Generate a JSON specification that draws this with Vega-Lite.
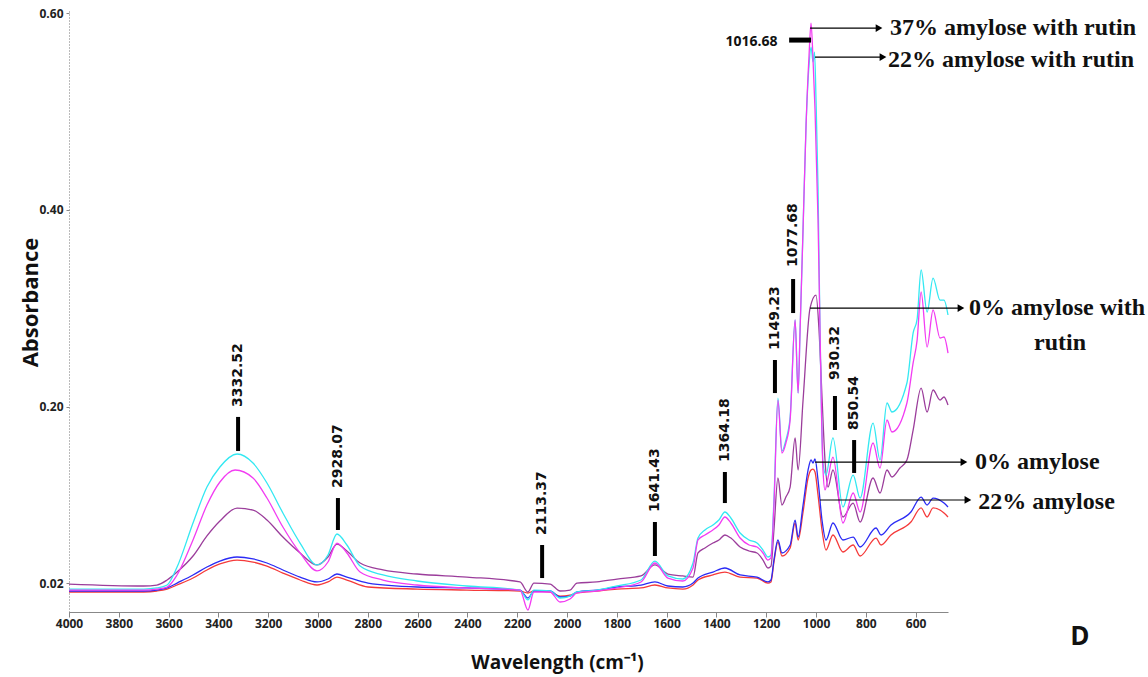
{
  "$schema": "https://vega.github.io/schema/vega-lite/v6.json",
  "width": 879,
  "height": 602,
  "autosize": {"type": "none"},
  "padding": {"left": 69, "top": 10, "right": 200, "bottom": 65},
  "background": "white",
  "config": {"view": {"stroke": null}, "font": "Open Sans"},
  "datasets": {
    "spectra": [
      {"s":"r","x":4000,"y":0.0113},{"s":"r","x":3700,"y":0.0113},{"s":"r","x":3647,"y":0.0123},{"s":"r","x":3606,"y":0.0143},{"s":"r","x":3566,"y":0.0184},{"s":"r","x":3502,"y":0.0255},{"s":"r","x":3446,"y":0.0337},{"s":"r","x":3394,"y":0.0398},{"s":"r","x":3325,"y":0.0438},{"s":"r","x":3261,"y":0.0418},{"s":"r","x":3205,"y":0.0377},{"s":"r","x":3141,"y":0.0306},{"s":"r","x":3072,"y":0.0235},{"s":"r","x":3004,"y":0.0184},{"s":"r","x":2960,"y":0.0215},{"s":"r","x":2924,"y":0.0265},{"s":"r","x":2884,"y":0.0235},{"s":"r","x":2799,"y":0.0164},{"s":"r","x":2602,"y":0.0143},{"s":"r","x":2402,"y":0.0133},{"s":"r","x":2189,"y":0.0123},{"s":"r","x":2157,"y":0.0103},{"s":"r","x":2133,"y":0.0123},{"s":"r","x":2068,"y":0.0113},{"s":"r","x":2028,"y":0.0072},{"s":"r","x":1988,"y":0.0082},{"s":"r","x":1960,"y":0.0103},{"s":"r","x":1880,"y":0.0123},{"s":"r","x":1799,"y":0.0143},{"s":"r","x":1703,"y":0.0154},{"s":"r","x":1647,"y":0.0184},{"s":"r","x":1595,"y":0.0154},{"s":"r","x":1535,"y":0.0143},{"s":"r","x":1494,"y":0.0184},{"s":"r","x":1474,"y":0.0235},{"s":"r","x":1414,"y":0.0286},{"s":"r","x":1366,"y":0.0316},{"s":"r","x":1305,"y":0.0265},{"s":"r","x":1237,"y":0.0255},{"s":"r","x":1193,"y":0.0204},{"s":"r","x":1181,"y":0.0215},{"s":"r","x":1169,"y":0.0418},{"s":"r","x":1153,"y":0.0622},{"s":"r","x":1137,"y":0.0479},{"s":"r","x":1104,"y":0.0561},{"s":"r","x":1084,"y":0.0815},{"s":"r","x":1072,"y":0.0642},{"s":"r","x":1052,"y":0.0927},{"s":"r","x":1032,"y":0.1273},{"s":"r","x":1020,"y":0.1354},{"s":"r","x":1012,"y":0.1364},{"s":"r","x":1004,"y":0.1334},{"s":"r","x":992,"y":0.11},{"s":"r","x":976,"y":0.0744},{"s":"r","x":960,"y":0.054},{"s":"r","x":932,"y":0.0693},{"s":"r","x":892,"y":0.052},{"s":"r","x":851,"y":0.0591},{"s":"r","x":823,"y":0.0479},{"s":"r","x":759,"y":0.0662},{"s":"r","x":739,"y":0.0591},{"s":"r","x":699,"y":0.0693},{"s":"r","x":619,"y":0.0825},{"s":"r","x":578,"y":0.0968},{"s":"r","x":554,"y":0.0876},{"s":"r","x":530,"y":0.0968},{"s":"r","x":486,"y":0.0917},{"s":"r","x":470,"y":0.0876},
      {"s":"b","x":4000,"y":0.0123},{"s":"b","x":3700,"y":0.0123},{"s":"b","x":3647,"y":0.0133},{"s":"b","x":3606,"y":0.0154},{"s":"b","x":3566,"y":0.0204},{"s":"b","x":3502,"y":0.0286},{"s":"b","x":3446,"y":0.0367},{"s":"b","x":3394,"y":0.0428},{"s":"b","x":3325,"y":0.0469},{"s":"b","x":3261,"y":0.0449},{"s":"b","x":3205,"y":0.0408},{"s":"b","x":3141,"y":0.0337},{"s":"b","x":3072,"y":0.0265},{"s":"b","x":3004,"y":0.0215},{"s":"b","x":2960,"y":0.0245},{"s":"b","x":2924,"y":0.0296},{"s":"b","x":2884,"y":0.0265},{"s":"b","x":2799,"y":0.0204},{"s":"b","x":2602,"y":0.0164},{"s":"b","x":2402,"y":0.0154},{"s":"b","x":2189,"y":0.0133},{"s":"b","x":2157,"y":0.0052},{"s":"b","x":2133,"y":0.0123},{"s":"b","x":2068,"y":0.0123},{"s":"b","x":2028,"y":0.0062},{"s":"b","x":1988,"y":0.0072},{"s":"b","x":1960,"y":0.0113},{"s":"b","x":1880,"y":0.0133},{"s":"b","x":1799,"y":0.0164},{"s":"b","x":1703,"y":0.0184},{"s":"b","x":1647,"y":0.0215},{"s":"b","x":1595,"y":0.0174},{"s":"b","x":1535,"y":0.0164},{"s":"b","x":1494,"y":0.0204},{"s":"b","x":1474,"y":0.0255},{"s":"b","x":1414,"y":0.0316},{"s":"b","x":1366,"y":0.0357},{"s":"b","x":1305,"y":0.0286},{"s":"b","x":1237,"y":0.0265},{"s":"b","x":1193,"y":0.0215},{"s":"b","x":1181,"y":0.0235},{"s":"b","x":1169,"y":0.0438},{"s":"b","x":1153,"y":0.0642},{"s":"b","x":1137,"y":0.051},{"s":"b","x":1104,"y":0.0591},{"s":"b","x":1084,"y":0.0845},{"s":"b","x":1072,"y":0.0672},{"s":"b","x":1052,"y":0.0998},{"s":"b","x":1032,"y":0.1354},{"s":"b","x":1020,"y":0.1456},{"s":"b","x":1012,"y":0.1425},{"s":"b","x":1004,"y":0.1466},{"s":"b","x":992,"y":0.1252},{"s":"b","x":976,"y":0.0845},{"s":"b","x":960,"y":0.0642},{"s":"b","x":932,"y":0.0815},{"s":"b","x":892,"y":0.0642},{"s":"b","x":851,"y":0.0672},{"s":"b","x":823,"y":0.0571},{"s":"b","x":759,"y":0.0764},{"s":"b","x":739,"y":0.0693},{"s":"b","x":699,"y":0.0795},{"s":"b","x":619,"y":0.0927},{"s":"b","x":578,"y":0.1079},{"s":"b","x":554,"y":0.0998},{"s":"b","x":530,"y":0.1069},{"s":"b","x":486,"y":0.1018},{"s":"b","x":470,"y":0.0978},
      {"s":"p","x":4000,"y":0.0194},{"s":"p","x":3700,"y":0.0174},{"s":"p","x":3647,"y":0.0184},{"s":"p","x":3606,"y":0.0235},{"s":"p","x":3566,"y":0.0316},{"s":"p","x":3502,"y":0.0479},{"s":"p","x":3446,"y":0.0683},{"s":"p","x":3394,"y":0.0835},{"s":"p","x":3325,"y":0.0967},{"s":"p","x":3261,"y":0.0947},{"s":"p","x":3205,"y":0.0845},{"s":"p","x":3141,"y":0.0672},{"s":"p","x":3072,"y":0.051},{"s":"p","x":3004,"y":0.0388},{"s":"p","x":2960,"y":0.0469},{"s":"p","x":2924,"y":0.0601},{"s":"p","x":2884,"y":0.053},{"s":"p","x":2831,"y":0.0408},{"s":"p","x":2739,"y":0.0337},{"s":"p","x":2602,"y":0.0296},{"s":"p","x":2402,"y":0.0265},{"s":"p","x":2189,"y":0.0215},{"s":"p","x":2157,"y":0.0113},{"s":"p","x":2133,"y":0.0204},{"s":"p","x":2068,"y":0.0194},{"s":"p","x":2028,"y":0.0123},{"s":"p","x":1988,"y":0.0133},{"s":"p","x":1960,"y":0.0204},{"s":"p","x":1880,"y":0.0215},{"s":"p","x":1799,"y":0.0245},{"s":"p","x":1703,"y":0.0276},{"s":"p","x":1647,"y":0.0388},{"s":"p","x":1595,"y":0.0296},{"s":"p","x":1535,"y":0.0276},{"s":"p","x":1494,"y":0.0265},{"s":"p","x":1474,"y":0.051},{"s":"p","x":1446,"y":0.0561},{"s":"p","x":1414,"y":0.0611},{"s":"p","x":1390,"y":0.0642},{"s":"p","x":1366,"y":0.0693},{"s":"p","x":1342,"y":0.0662},{"s":"p","x":1305,"y":0.0571},{"s":"p","x":1269,"y":0.053},{"s":"p","x":1237,"y":0.051},{"s":"p","x":1213,"y":0.0438},{"s":"p","x":1193,"y":0.0357},{"s":"p","x":1181,"y":0.0377},{"s":"p","x":1169,"y":0.0744},{"s":"p","x":1153,"y":0.1273},{"s":"p","x":1137,"y":0.0998},{"s":"p","x":1121,"y":0.1079},{"s":"p","x":1104,"y":0.1181},{"s":"p","x":1084,"y":0.168},{"s":"p","x":1072,"y":0.1354},{"s":"p","x":1052,"y":0.2066},{"s":"p","x":1024,"y":0.3002},{"s":"p","x":1000,"y":0.3134},{"s":"p","x":988,"y":0.2778},{"s":"p","x":976,"y":0.2097},{"s":"p","x":964,"y":0.1456},{"s":"p","x":952,"y":0.1181},{"s":"p","x":932,"y":0.1354},{"s":"p","x":892,"y":0.0876},{"s":"p","x":851,"y":0.1018},{"s":"p","x":823,"y":0.0825},{"s":"p","x":771,"y":0.1273},{"s":"p","x":743,"y":0.112},{"s":"p","x":715,"y":0.1354},{"s":"p","x":695,"y":0.1283},{"s":"p","x":663,"y":0.1374},{"s":"p","x":635,"y":0.1456},{"s":"p","x":610,"y":0.1761},{"s":"p","x":578,"y":0.2188},{"s":"p","x":554,"y":0.1944},{"s":"p","x":530,"y":0.2168},{"s":"p","x":502,"y":0.2066},{"s":"p","x":486,"y":0.2097},{"s":"p","x":470,"y":0.2015},
      {"s":"c","x":4000,"y":0.0143},{"s":"c","x":3700,"y":0.0143},{"s":"c","x":3647,"y":0.0154},{"s":"c","x":3606,"y":0.0184},{"s":"c","x":3566,"y":0.0367},{"s":"c","x":3502,"y":0.0815},{"s":"c","x":3446,"y":0.1181},{"s":"c","x":3394,"y":0.1385},{"s":"c","x":3325,"y":0.1517},{"s":"c","x":3261,"y":0.1425},{"s":"c","x":3205,"y":0.1222},{"s":"c","x":3141,"y":0.0917},{"s":"c","x":3072,"y":0.0611},{"s":"c","x":3004,"y":0.0388},{"s":"c","x":2960,"y":0.0489},{"s":"c","x":2924,"y":0.0703},{"s":"c","x":2884,"y":0.0591},{"s":"c","x":2831,"y":0.0377},{"s":"c","x":2739,"y":0.0286},{"s":"c","x":2602,"y":0.0225},{"s":"c","x":2402,"y":0.0174},{"s":"c","x":2189,"y":0.0133},{"s":"c","x":2157,"y":0.0032},{"s":"c","x":2133,"y":0.0133},{"s":"c","x":2068,"y":0.0123},{"s":"c","x":2028,"y":0.0052},{"s":"c","x":1988,"y":0.0072},{"s":"c","x":1960,"y":0.0113},{"s":"c","x":1880,"y":0.0133},{"s":"c","x":1799,"y":0.0174},{"s":"c","x":1703,"y":0.0235},{"s":"c","x":1647,"y":0.0428},{"s":"c","x":1595,"y":0.0276},{"s":"c","x":1535,"y":0.0245},{"s":"c","x":1494,"y":0.0408},{"s":"c","x":1474,"y":0.0662},{"s":"c","x":1446,"y":0.0744},{"s":"c","x":1414,"y":0.0795},{"s":"c","x":1390,"y":0.0845},{"s":"c","x":1366,"y":0.0927},{"s":"c","x":1342,"y":0.0866},{"s":"c","x":1305,"y":0.0713},{"s":"c","x":1269,"y":0.0642},{"s":"c","x":1237,"y":0.0611},{"s":"c","x":1213,"y":0.054},{"s":"c","x":1193,"y":0.0469},{"s":"c","x":1181,"y":0.0489},{"s":"c","x":1169,"y":0.1049},{"s":"c","x":1153,"y":0.2086},{"s":"c","x":1137,"y":0.1547},{"s":"c","x":1121,"y":0.1659},{"s":"c","x":1104,"y":0.1893},{"s":"c","x":1084,"y":0.288},{"s":"c","x":1072,"y":0.2137},{"s":"c","x":1064,"y":0.2778},{"s":"c","x":1052,"y":0.3816},{"s":"c","x":1040,"y":0.4864},{"s":"c","x":1028,"y":0.5474},{"s":"c","x":1020,"y":0.5657},{"s":"c","x":1012,"y":0.5505},{"s":"c","x":1006,"y":0.5606},{"s":"c","x":1000,"y":0.5118},{"s":"c","x":992,"y":0.4233},{"s":"c","x":984,"y":0.2778},{"s":"c","x":972,"y":0.1425},{"s":"c","x":960,"y":0.1303},{"s":"c","x":932,"y":0.168},{"s":"c","x":892,"y":0.0978},{"s":"c","x":851,"y":0.1303},{"s":"c","x":823,"y":0.1069},{"s":"c","x":771,"y":0.1832},{"s":"c","x":743,"y":0.1456},{"s":"c","x":715,"y":0.2036},{"s":"c","x":695,"y":0.1944},{"s":"c","x":635,"y":0.2239},{"s":"c","x":610,"y":0.2748},{"s":"c","x":594,"y":0.289},{"s":"c","x":578,"y":0.3389},{"s":"c","x":554,"y":0.2961},{"s":"c","x":530,"y":0.3307},{"s":"c","x":502,"y":0.3083},{"s":"c","x":486,"y":0.3083},{"s":"c","x":470,"y":0.2931},
      {"s":"m","x":4000,"y":0.0133},{"s":"m","x":3700,"y":0.0133},{"s":"m","x":3647,"y":0.0143},{"s":"m","x":3606,"y":0.0163},{"s":"m","x":3566,"y":0.0286},{"s":"m","x":3502,"y":0.0642},{"s":"m","x":3446,"y":0.0998},{"s":"m","x":3394,"y":0.1232},{"s":"m","x":3333,"y":0.1354},{"s":"m","x":3261,"y":0.1273},{"s":"m","x":3205,"y":0.1069},{"s":"m","x":3141,"y":0.0774},{"s":"m","x":3072,"y":0.051},{"s":"m","x":3004,"y":0.0327},{"s":"m","x":2960,"y":0.0418},{"s":"m","x":2924,"y":0.0611},{"s":"m","x":2884,"y":0.051},{"s":"m","x":2831,"y":0.0316},{"s":"m","x":2739,"y":0.0235},{"s":"m","x":2602,"y":0.0184},{"s":"m","x":2402,"y":0.0154},{"s":"m","x":2189,"y":0.0133},{"s":"m","x":2157,"y":-0.007},{"s":"m","x":2133,"y":0.0113},{"s":"m","x":2068,"y":0.0113},{"s":"m","x":2028,"y":0.0011},{"s":"m","x":1988,"y":0.0042},{"s":"m","x":1960,"y":0.0103},{"s":"m","x":1880,"y":0.0123},{"s":"m","x":1799,"y":0.0154},{"s":"m","x":1703,"y":0.0215},{"s":"m","x":1647,"y":0.0408},{"s":"m","x":1595,"y":0.0255},{"s":"m","x":1535,"y":0.0225},{"s":"m","x":1494,"y":0.0357},{"s":"m","x":1474,"y":0.0642},{"s":"m","x":1446,"y":0.0693},{"s":"m","x":1414,"y":0.0744},{"s":"m","x":1390,"y":0.0795},{"s":"m","x":1366,"y":0.0876},{"s":"m","x":1342,"y":0.0815},{"s":"m","x":1305,"y":0.0662},{"s":"m","x":1269,"y":0.0591},{"s":"m","x":1237,"y":0.0571},{"s":"m","x":1213,"y":0.051},{"s":"m","x":1193,"y":0.0438},{"s":"m","x":1181,"y":0.0459},{"s":"m","x":1169,"y":0.0998},{"s":"m","x":1153,"y":0.2066},{"s":"m","x":1137,"y":0.1527},{"s":"m","x":1121,"y":0.1629},{"s":"m","x":1104,"y":0.1863},{"s":"m","x":1084,"y":0.288},{"s":"m","x":1072,"y":0.2137},{"s":"m","x":1064,"y":0.2778},{"s":"m","x":1052,"y":0.3816},{"s":"m","x":1040,"y":0.4864},{"s":"m","x":1028,"y":0.5576},{"s":"m","x":1020,"y":0.5901},{"s":"m","x":1012,"y":0.5525},{"s":"m","x":1004,"y":0.5016},{"s":"m","x":992,"y":0.3897},{"s":"m","x":984,"y":0.2778},{"s":"m","x":972,"y":0.1354},{"s":"m","x":964,"y":0.1151},{"s":"m","x":952,"y":0.1273},{"s":"m","x":932,"y":0.1486},{"s":"m","x":892,"y":0.0815},{"s":"m","x":851,"y":0.112},{"s":"m","x":823,"y":0.0927},{"s":"m","x":771,"y":0.1629},{"s":"m","x":743,"y":0.1374},{"s":"m","x":715,"y":0.1863},{"s":"m","x":695,"y":0.1741},{"s":"m","x":635,"y":0.2036},{"s":"m","x":610,"y":0.2443},{"s":"m","x":594,"y":0.2676},{"s":"m","x":578,"y":0.3165},{"s":"m","x":554,"y":0.2605},{"s":"m","x":530,"y":0.2982},{"s":"m","x":502,"y":0.2697},{"s":"m","x":486,"y":0.2707},{"s":"m","x":470,"y":0.2544}
    ],
    "peaks": [
      {"x":3321,"t":0.1995,"b1":0.1894,"b2":0.1548,"label":"3332.52"},
      {"x":2920,"t":0.1171,"b1":0.1069,"b2":0.0744,"label":"2928.07"},
      {"x":2100,"t":0.0693,"b1":0.0591,"b2":0.0255,"label":"2113.37"},
      {"x":1647,"t":0.0927,"b1":0.0825,"b2":0.0479,"label":"1641.43"},
      {"x":1366,"t":0.1435,"b1":0.1334,"b2":0.1018,"label":"1364.18"},
      {"x":1165,"t":0.2575,"b1":0.2473,"b2":0.2137,"label":"1149.23"},
      {"x":1092,"t":0.3419,"b1":0.3297,"b2":0.2951,"label":"1077.68"},
      {"x":924,"t":0.227,"b1":0.2107,"b2":0.1761,"label":"930.32"},
      {"x":847,"t":0.1761,"b1":0.1659,"b2":0.1324,"label":"850.54"}
    ],
    "arrows": [
      {"x1":1024,"x2":747,"y":0.585},
      {"x1":1004,"x2":731,"y":0.5555},
      {"x1":1024,"x2":418,"y":0.3002},
      {"x1":1004,"x2":406,"y":0.1435},
      {"x1":984,"x2":390,"y":0.1049}
    ],
    "names": [
      {"x":703,"y":0.585,"label":"37% amylose with rutin"},
      {"x":711,"y":0.5525,"label":"22% amylose with rutin"},
      {"x":362,"y":0.1435,"label":"0% amylose"},
      {"x":349,"y":0.1028,"label":"22% amylose"}
    ],
    "names2": [
      {"x":32,"y":0.3002,"label":"0% amylose with"},
      {"x":20,"y":0.2646,"label":"rutin"}
    ]
  },
  "layer": [
    {
      "data": {"name": "spectra"},
      "mark": {"type": "line", "strokeWidth": 1.3, "interpolate": "monotone"},
      "encoding": {
        "x": {"field": "x", "type": "quantitative",
          "scale": {"domain": [470, 4000], "reverse": true, "nice": false, "zero": false},
          "axis": {
            "title": "Wavelength (cm⁻¹)",
            "values": [600,800,1000,1200,1400,1600,1800,2000,2200,2400,2600,2800,3000,3200,3400,3600,3800,4000],
            "format": "d",
            "labelOverlap": false,
            "labelFlush": false,
            "labelFont": "Open Sans", "labelFontWeight": "bold", "labelFontSize": 12, "labelColor": "#222",
            "labelPadding": 1,
            "tickSize": 5,
            "tickColor": "#888", "domainColor": "#888",
            "titleFont": "Open Sans", "titleFontWeight": "bold", "titleFontSize": 19, "titleColor": "#111",
            "titleX": 488, "titleY": 50, "titleBaseline": "middle", "titleAlign": "center",
            "grid": false
          }
        },
        "y": {"field": "y", "type": "quantitative",
          "scale": {"domain": [-0.00905, 0.6034], "nice": false, "zero": false},
          "axis": {
            "title": "Absorbance",
            "values": [0.02, 0.2, 0.4, 0.6],
            "format": ".2f",
            "labelFont": "Open Sans", "labelFontWeight": "bold", "labelFontSize": 12, "labelColor": "#222",
            "labelPadding": 3, "tickSize": 3, "tickColor": "#888",
            "domainColor": "#777", "domainDash": [1, 2],
            "titleFont": "Open Sans", "titleFontWeight": "bold", "titleFontSize": 22, "titleColor": "#111",
            "titleX": -39, "titleY": 292, "titleAngle": 270, "titleAlign": "center", "titleBaseline": "middle",
            "grid": false
          }
        },
        "color": {"field": "s", "type": "nominal",
          "scale": {"domain": ["r", "b", "p", "c", "m"], "range": ["#F53A3A", "#2B2BF5", "#9B3D9B", "#33E8F2", "#F23CF2"]},
          "legend": null},
        "order": {"field": "x", "sort": "descending"}
      }
    },
    {
      "data": {"name": "peaks"},
      "mark": {"type": "rule", "strokeWidth": 4, "color": "black"},
      "encoding": {
        "x": {"field": "x", "type": "quantitative"},
        "y": {"field": "b1", "type": "quantitative"},
        "y2": {"field": "b2"}
      }
    },
    {
      "data": {"name": "peaks"},
      "mark": {"type": "text", "angle": 270, "align": "left", "baseline": "middle", "font": "DejaVu Sans", "fontWeight": "bold", "fontSize": 14, "color": "#111"},
      "encoding": {
        "x": {"field": "x", "type": "quantitative"},
        "y": {"field": "t", "type": "quantitative"},
        "text": {"field": "label"}
      }
    },
    {
      "data": {"values": [{"x1": 1108, "x2": 1020, "y": 0.5728}]},
      "mark": {"type": "rule", "strokeWidth": 5, "color": "black"},
      "encoding": {
        "x": {"field": "x1", "type": "quantitative"},
        "x2": {"field": "x2"},
        "y": {"field": "y", "type": "quantitative"}
      }
    },
    {
      "data": {"values": [{"x": 1155, "y": 0.5708, "label": "1016.68"}]},
      "mark": {"type": "text", "align": "right", "baseline": "middle", "font": "Open Sans", "fontWeight": "bold", "fontSize": 14, "color": "#111"},
      "encoding": {
        "x": {"field": "x", "type": "quantitative"},
        "y": {"field": "y", "type": "quantitative"},
        "text": {"field": "label"}
      }
    },
    {
      "data": {"name": "arrows"},
      "mark": {"type": "rule", "strokeWidth": 1.2, "color": "black"},
      "encoding": {
        "x": {"field": "x1", "type": "quantitative"},
        "x2": {"field": "x2"},
        "y": {"field": "y", "type": "quantitative"}
      }
    },
    {
      "data": {"name": "arrows"},
      "mark": {"type": "point", "shape": "triangle-right", "size": 60, "filled": true, "color": "black", "opacity": 1},
      "encoding": {
        "x": {"field": "x2", "type": "quantitative"},
        "y": {"field": "y", "type": "quantitative"}
      }
    },
    {
      "data": {"name": "names"},
      "mark": {"type": "text", "align": "left", "baseline": "middle", "font": "Liberation Serif", "fontWeight": "bold", "fontSize": 24, "color": "#111"},
      "encoding": {
        "x": {"field": "x", "type": "quantitative"},
        "y": {"field": "y", "type": "quantitative"},
        "text": {"field": "label"}
      }
    },
    {
      "data": {"name": "names2"},
      "mark": {"type": "text", "align": "center", "baseline": "middle", "font": "Liberation Serif", "fontWeight": "bold", "fontSize": 24, "color": "#111"},
      "encoding": {
        "x": {"field": "x", "type": "quantitative"},
        "y": {"field": "y", "type": "quantitative"},
        "text": {"field": "label"}
      }
    },
    {
      "data": {"values": [{"x": -60, "y": -0.0345, "label": "D"}]},
      "mark": {"type": "text", "align": "center", "baseline": "middle", "font": "Open Sans", "fontWeight": "bold", "fontSize": 26, "color": "#111"},
      "encoding": {
        "x": {"field": "x", "type": "quantitative"},
        "y": {"field": "y", "type": "quantitative"},
        "text": {"field": "label"}
      }
    }
  ]
}
